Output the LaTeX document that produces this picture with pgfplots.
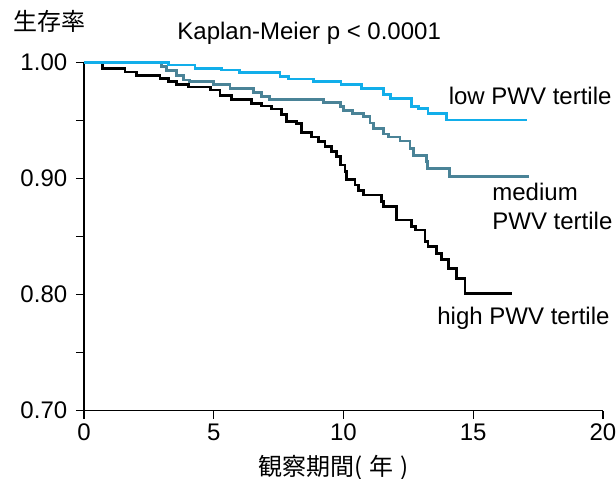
\documentclass[border=0pt]{standalone}
\usepackage{fontspec}
\setmainfont{Liberation Sans}
\newfontfamily\jp{Noto Sans CJK JP}
\usepackage{pgfplots}
\pgfplotsset{compat=1.18}
\definecolor{lowc}{HTML}{12AEEA}
\definecolor{medc}{HTML}{4A8397}
\begin{document}
\begin{tikzpicture}
\fontsize{12bp}{14.4bp}\selectfont
\useasboundingbox (-42bp,-34.15bp) rectangle (266bp,205.35bp);
\begin{axis}[
  at={(0,0)}, anchor=south west,
  scale only axis, width=259.5bp, height=174bp,
  xmin=0, xmax=20, ymin=0.70, ymax=1.00,
  axis x line*=bottom, axis y line*=left,
  axis line style={line width=0.6bp},
  tick style={line width=0.6bp, black},
  tick align=outside, major tick length=4bp,
  xtick={0,5,10,15,20},
  ytick={0.70,0.75,0.80,0.85,0.90,0.95,1.00},
  yticklabels={0.70,,0.80,,0.90,,1.00},
  /pgf/number format/assume math mode=true,
  ticklabel style={font=\fontsize{12bp}{14.4bp}\selectfont},
  xticklabel style={inner sep=0pt, anchor=base, yshift=-11bp},
  yticklabel style={inner sep=0pt, anchor=east, xshift=-4.2bp},
  clip=false,
]
\addplot[const plot, black, line width=1.4bp] coordinates {
(0,1.0) (0.72,0.995) (1.58,0.992) (2.03,0.989) (2.93,0.9866) (3.25,0.9836)
(3.57,0.981) (4.02,0.979) (4.86,0.9765) (5.24,0.972) (5.69,0.968) (6.46,0.965)
(6.85,0.9627) (7.23,0.96) (7.62,0.955) (7.81,0.949) (8.2,0.9478) (8.39,0.9397)
(8.77,0.936) (9.03,0.932) (9.29,0.9276) (9.55,0.9233) (9.74,0.919) (9.87,0.9118)
(10.06,0.906) (10.12,0.899) (10.44,0.8946) (10.57,0.890) (10.76,0.886) (11.47,0.880)
(11.53,0.8759) (12.05,0.8644) (12.63,0.8586) (12.76,0.8558) (13.14,0.8457)
(13.26,0.8414) (13.59,0.8357) (13.78,0.830) (14.04,0.8228) (14.36,0.8141)
(14.68,0.801) (16.48,0.801)
};
\addplot[const plot, medc, line width=1.4bp] coordinates {
(0,1.0) (2.99,0.9966) (3.19,0.993) (3.57,0.989) (3.83,0.985) (4.08,0.9836)
(4.98,0.981) (5.63,0.978) (6.52,0.9745) (6.85,0.971) (7.15,0.9685) (9.22,0.966)
(9.87,0.962) (10.0,0.959) (10.35,0.956) (10.78,0.9535) (11.02,0.948) (11.15,0.943)
(11.55,0.9385) (11.73,0.936) (12.18,0.9325) (12.56,0.926) (12.69,0.920)
(13.2,0.9147) (13.25,0.909) (14.1,0.902) (17.16,0.902)
};
\addplot[const plot, lowc, line width=1.4bp] coordinates {
(0,1.0) (3.25,0.998) (4.28,0.995) (5.3,0.9937) (6.0,0.9917) (7.55,0.988)
(7.87,0.986) (8.83,0.9836) (9.9,0.981) (10.7,0.978) (11.53,0.9728) (11.8,0.969)
(12.63,0.962) (12.88,0.9607) (13.26,0.956) (13.98,0.9506) (17.06,0.9506)
};
\end{axis}
\node[anchor=base west, inner sep=0pt] at (46.5bp,185.7bp) {Kaplan-Meier p < 0.0001};
\node[anchor=base west, inner sep=0pt] at (-35.5bp,190.3bp) {\jp 生存率};
\node[anchor=base west, inner sep=0pt] at (87bp,-32.5bp) {\jp 観察期間(\hspace{3.5bp}年\hspace{3.5bp})};
\node[anchor=base west, inner sep=0pt] at (182.2bp,152.85bp) {low PWV tertile};
\node[anchor=base west, inner sep=0pt] at (204bp,105bp) {medium};
\node[anchor=base west, inner sep=0pt] at (204bp,90.35bp) {PWV tertile};
\node[anchor=base west, inner sep=0pt] at (176.5bp,42.85bp) {high PWV tertile};
\end{tikzpicture}
\end{document}
